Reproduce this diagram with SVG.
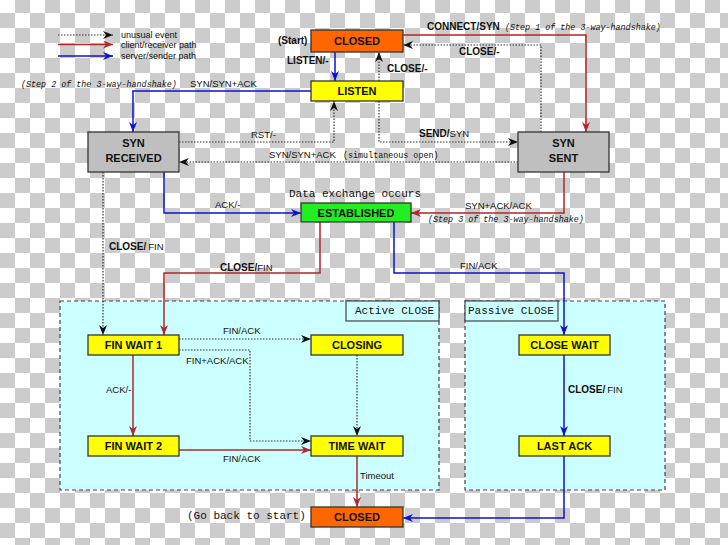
<svg xmlns="http://www.w3.org/2000/svg" width="728" height="545" viewBox="0 0 728 545">
<defs>
<pattern id="chk" width="30" height="30" patternUnits="userSpaceOnUse" y="-2">
<rect width="30" height="30" fill="#ffffff"/>
<rect x="15" width="15" height="15" fill="#cccccc"/>
<rect y="15" width="15" height="15" fill="#cccccc"/>
</pattern>
<marker id="ak" markerUnits="userSpaceOnUse" markerWidth="11" markerHeight="8" refX="10" refY="4" orient="auto"><path d="M0,0 L10,4 L0,8 L3,4 z" fill="#111"/></marker>
<marker id="ar" markerUnits="userSpaceOnUse" markerWidth="11" markerHeight="8" refX="10" refY="4" orient="auto"><path d="M0,0 L10,4 L0,8 L3,4 z" fill="#b02828"/></marker>
<marker id="ab" markerUnits="userSpaceOnUse" markerWidth="11" markerHeight="8" refX="10" refY="4" orient="auto"><path d="M0,0 L10,4 L0,8 L3,4 z" fill="#1010d0"/></marker>
<style>
.dot{fill:none;stroke:#333;stroke-width:1.2;stroke-dasharray:1.5,1.5;marker-end:url(#ak)}
.red{fill:none;stroke:#b02828;stroke-width:1.5;marker-end:url(#ar)}
.blue{fill:none;stroke:#1010d0;stroke-width:1.5;marker-end:url(#ab)}
.region{fill:#ccffff;stroke:#444;stroke-width:1.2;stroke-dasharray:4,3}
.rlab{fill:#ccffff;stroke:#444;stroke-width:1.2}
.box{stroke:#333;stroke-width:1.3}
.bt{font-family:"Liberation Sans",Arial,sans-serif;font-weight:bold;font-size:11px;fill:#111;text-anchor:middle}
.lb{font-family:"Liberation Sans",Arial,sans-serif;font-size:9.5px;fill:#111}
.b{font-weight:bold;font-size:10px}
.lg{font-family:"Liberation Sans",Arial,sans-serif;font-size:9px;fill:#111}
.mi{font-family:"Liberation Mono","Courier New",monospace;font-style:italic;font-size:8.4px;fill:#111}
.mo{font-family:"Liberation Mono","Courier New",monospace;font-size:8.4px;fill:#111}
.ml{font-family:"Liberation Mono","Courier New",monospace;font-size:11px;fill:#111}
</style>
</defs>
<rect width="728" height="545" fill="url(#chk)"/>

<g id="regions">
<rect class="region" x="60" y="301" width="379" height="189"/>
<rect class="rlab" x="346" y="301" width="93" height="20"/>
<text class="ml" x="355" y="314">Active CLOSE</text>
<rect class="region" x="465" y="301" width="200" height="189"/>
<rect class="rlab" x="465" y="301" width="93" height="20"/>
<text class="ml" x="468" y="314">Passive CLOSE</text>
</g>

<g id="legend">
<path class="dot" d="M58,35 H113" stroke="#456"/>
<path class="red" d="M58,44.5 H113"/>
<path class="blue" d="M58,56 H113"/>
<text class="lg" x="121" y="38">unusual event</text>
<text class="lg" x="121" y="48">client/receiver path</text>
<text class="lg" x="121" y="59">server/sender path</text>
</g>

<g id="connectors">
<path class="blue" d="M335,52 V81"/>
<path class="dot" d="M379,81 V52"/>
<path class="red" d="M403,35 H586 V132"/>
<path class="dot" d="M541,132 V45 H403"/>
<path class="blue" d="M311,91 H133 V132"/>
<path class="dot" d="M179,142 H334 V101"/>
<path class="dot" d="M518,162 H179"/>
<path class="dot" d="M379,101 V142 H518"/>
<path class="red" d="M564,172 V213 H411"/>
<path class="blue" d="M164,172 V213 H301"/>
<path class="dot" d="M103,172 V335"/>
<path class="red" d="M320,222 V273 H164 V335"/>
<path class="blue" d="M394,222 V273 H564 V335"/>
<path class="dot" d="M179,339 H311"/>
<path class="dot" d="M179,350 H250 V441 H311"/>
<path class="dot" d="M357,355 V436"/>
<path class="red" d="M133,355 V436"/>
<path class="red" d="M179,450 H311"/>
<path class="red" d="M357,456 V507"/>
<path class="blue" d="M564,355 V436"/>
<path class="blue" d="M564,456 V518 H403"/>

<text class="lb b" x="278" y="44">(Start)</text>
<text class="lb b" x="287" y="64">LISTEN/-</text>
<text class="lb b" x="387" y="72">CLOSE/-</text>
<text class="lb b" x="427" y="30">CONNECT/SYN</text>
<text class="mi" x="505" y="30">(Step 1 of the 3-way-handshake)</text>
<text class="lb b" x="459" y="55">CLOSE/-</text>
<text class="mi" x="21" y="87">(Step 2 of the 3-way-handshake)</text>
<text class="lb" x="190" y="87">SYN/SYN+ACK</text>
<text class="lb" x="251" y="138">RST/-</text>
<text class="lb" x="269" y="158">SYN/SYN+ACK</text>
<text class="mo" x="343" y="158">(simultaneous open)</text>
<text class="lb" x="419" y="137"><tspan class="b">SEND/</tspan>SYN</text>
<text class="ml" x="289" y="197">Data exchange occurs</text>
<text class="lb" x="215" y="208">ACK/-</text>
<text class="lb" x="465" y="209">SYN+ACK/ACK</text>
<text class="mi" x="428" y="222">(Step 3 of the 3-way-handshake)</text>
<text class="lb" x="109" y="250"><tspan class="b">CLOSE/</tspan><tspan dx="2">FIN</tspan></text>
<text class="lb" x="220" y="271"><tspan class="b">CLOSE/</tspan>FIN</text>
<text class="lb" x="460" y="269">FIN/ACK</text>
<text class="lb" x="223" y="334">FIN/ACK</text>
<text class="lb" x="186" y="364">FIN+ACK/ACK</text>
<text class="lb" x="106" y="393">ACK/-</text>
<text class="lb" x="568" y="393"><tspan class="b">CLOSE/</tspan><tspan dx="2">FIN</tspan></text>
<text class="lb" x="223" y="462">FIN/ACK</text>
<text class="lb" x="360" y="479">Timeout</text>
<text class="ml" x="187" y="519">(Go back to start)</text>
</g>

<g id="closed-top"><rect class="box" x="311" y="30" width="92" height="22" fill="#ff6600"/><text class="bt" x="357" y="45">CLOSED</text></g>
<g id="listen"><rect class="box" x="311" y="81" width="92" height="20" fill="#ffff00"/><text class="bt" x="357" y="95">LISTEN</text></g>
<g id="syn-received"><rect class="box" x="88" y="132" width="91" height="40" fill="#bfbfbf"/><text class="bt" x="133.5" y="147">SYN</text><text class="bt" x="133.5" y="162">RECEIVED</text></g>
<g id="syn-sent"><rect class="box" x="518" y="132" width="91" height="40" fill="#bfbfbf"/><text class="bt" x="563.5" y="147">SYN</text><text class="bt" x="563.5" y="162">SENT</text></g>
<g id="established"><rect class="box" x="301" y="203" width="110" height="19" fill="#22ee22"/><text class="bt" x="356" y="216.5">ESTABLISHED</text></g>
<g id="fin-wait-1"><rect class="box" x="88" y="335" width="91" height="20" fill="#ffff00"/><text class="bt" x="133.5" y="349">FIN WAIT 1</text></g>
<g id="closing"><rect class="box" x="311" y="335" width="92" height="20" fill="#ffff00"/><text class="bt" x="357" y="349">CLOSING</text></g>
<g id="fin-wait-2"><rect class="box" x="88" y="436" width="91" height="20" fill="#ffff00"/><text class="bt" x="133.5" y="450">FIN WAIT 2</text></g>
<g id="time-wait"><rect class="box" x="311" y="436" width="92" height="20" fill="#ffff00"/><text class="bt" x="357" y="450">TIME WAIT</text></g>
<g id="close-wait"><rect class="box" x="519" y="335" width="91" height="20" fill="#ffff00"/><text class="bt" x="564.5" y="349">CLOSE WAIT</text></g>
<g id="last-ack"><rect class="box" x="519" y="436" width="91" height="20" fill="#ffff00"/><text class="bt" x="564.5" y="450">LAST ACK</text></g>
<g id="closed-bottom"><rect class="box" x="311" y="507" width="92" height="20" fill="#ff6600"/><text class="bt" x="357" y="521">CLOSED</text></g>
</svg>
